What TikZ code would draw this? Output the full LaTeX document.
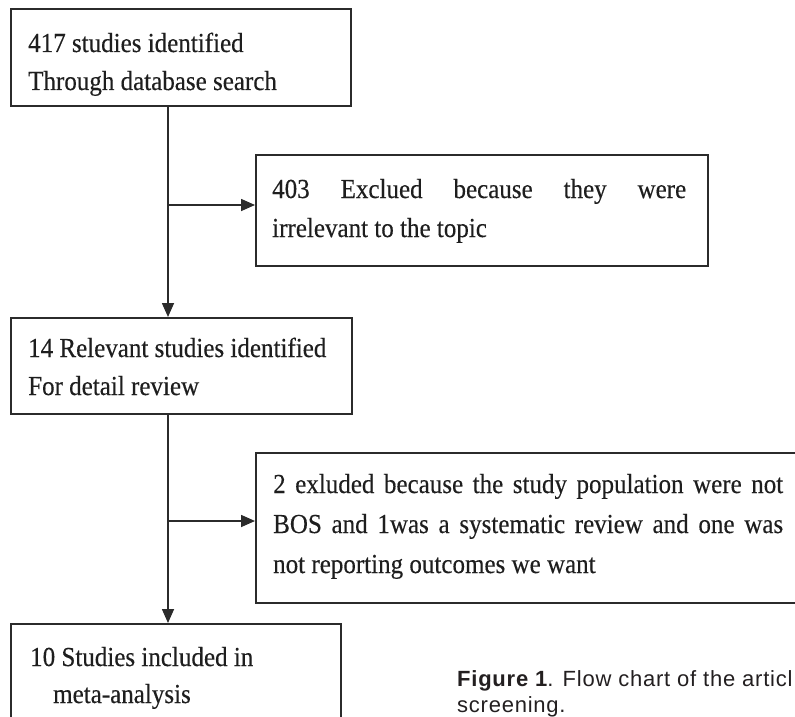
\documentclass[tikz,border=0pt]{standalone}
\usepackage{fontspec}
\setmainfont{Liberation Serif}[FakeStretch=0.91, FakeBold=0.3]
\newfontfamily\capfont{Liberation Sans}[LetterSpace=3.5]
\usetikzlibrary{arrows.meta}
\definecolor{linec}{HTML}{2B2B2B}
\definecolor{textc}{HTML}{1E1E1E}
\definecolor{capc}{HTML}{231F20}
\begin{document}
\begin{tikzpicture}[x=1pt,y=-1pt,
  box/.style={draw=linec, line width=1.8pt, inner sep=0pt, anchor=north west},
  txt/.style={anchor=base west, inner sep=0pt, text=textc},
  arr/.style={draw=linec, line width=1.6pt, -{Triangle[length=14pt,width=12pt]}},
]
\useasboundingbox (0,0) rectangle (795,717);
\clip (0,0) rectangle (795,717);
\fill[white] (0,0) rectangle (795,717);
% boxes
\node[box, minimum width=340pt, minimum height=97pt] (b1) at (10,8) {};
\node[box, minimum width=452pt, minimum height=111pt] (b2) at (255,154) {};
\node[box, minimum width=341pt, minimum height=96pt] (b3) at (10,317) {};
\node[box, minimum width=560pt, minimum height=150pt] (b4) at (255,452) {};
\node[box, minimum width=330pt, minimum height=110pt] (b5) at (10,623) {};
% texts
\node[txt, font=\fontsize{27.5}{38}\selectfont] (t1) at (28,52)
  {\parbox[t]{320pt}{417 studies identified\\Through database search}};
\node[txt, font=\fontsize{27.5}{39}\selectfont] (t2) at (272,198)
  {\parbox[t]{420pt}{\makebox[414pt][s]{403 Exclued because they were}\\irrelevant to the topic}};
\node[txt, font=\fontsize{27.5}{38}\selectfont] (t3) at (28,357)
  {\parbox[t]{320pt}{14 Relevant studies identified\\For detail review}};
\node[txt, font=\fontsize{27.5}{40}\selectfont] (t4) at (273,493)
  {\parbox[t]{520pt}{\makebox[510pt][s]{2 exluded because the study population were not}\\\makebox[510pt][s]{BOS and 1was a systematic review and one was}\\not reporting outcomes we want}};
\node[txt, font=\fontsize{27.5}{37}\selectfont] (t5) at (30,666)
  {\parbox[t]{300pt}{10 Studies included in\\\hspace*{23pt}meta-analysis}};
% connectors
\coordinate (trunk) at (168,0);
\coordinate (j1) at (168,205);
\coordinate (j2) at (168,521);
\draw[arr] (b1.south -| trunk) -- (b3.north -| trunk);
\draw[arr] (j1) -- (j1 -| b2.west);
\draw[arr] (b3.south -| trunk) -- (b5.north -| trunk);
\draw[arr] (j2) -- (j2 -| b4.west);
% caption
\node[anchor=base west, inner sep=0pt, text=capc, font=\capfont\fontsize{22}{26}\selectfont] (cap) at (457,686)
  {\parbox[t]{400pt}{\textbf{Figure 1}. Flow chart of the articl\\screening.}};
\end{tikzpicture}
\end{document}
